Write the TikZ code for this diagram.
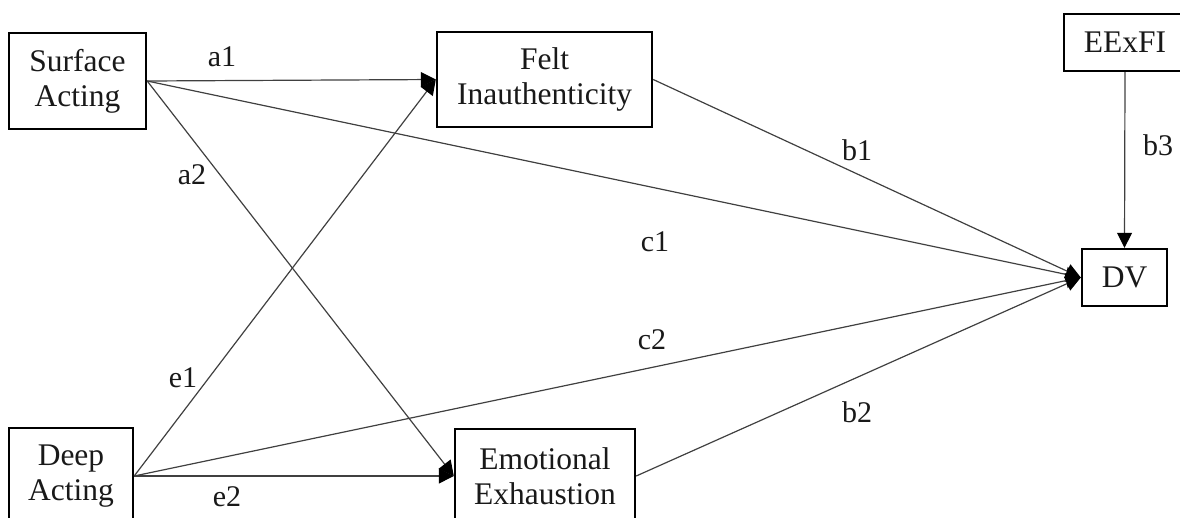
\documentclass[tikz,border=0pt]{standalone}
\usepackage{fontspec}
\setmainfont{Liberation Serif}
\usetikzlibrary{arrows.meta}
\begin{document}
\begin{tikzpicture}[x=1pt,y=-1pt,
  box/.style={draw=black, line width=2.4pt, inner sep=0pt, align=center,
    font=\fontsize{31.5}{35}\selectfont, text=black!90},
  conn/.style={draw=black!75, line width=1.2pt,
    -{Triangle[length=15pt,width=15pt,color=black]}},
  lab/.style={font=\fontsize{30}{33}\selectfont, text=black!90, inner sep=0pt}]
\useasboundingbox (0,0) rectangle (1180,517);
\node[box, minimum width=137pt, minimum height=96pt] (sa) at (77.5,81) {Surface\\Acting};
\node[box, minimum width=215pt, minimum height=95pt] (fi) at (544.5,79.5) {Felt\\Inauthenticity};
\node[box, minimum width=124pt, minimum height=96pt] (da) at (71,476) {Deep\\Acting};
\node[box, minimum width=180pt, minimum height=94pt] (ee) at (545,476) {Emotional\\Exhaustion};
\node[box, minimum width=122pt, minimum height=57pt] (ex) at (1125,42.5) {EExFI};
\node[box, minimum width=85pt, minimum height=57pt] (dv) at (1124.5,277.5) {DV};
\draw[conn] (sa.east) -- (fi.west);
\draw[conn] (sa.east) -- (ee.west);
\draw[conn] (sa.east) -- (dv.west);
\draw[conn] (da.east) -- (fi.west);
\draw[conn] (da.east) -- (dv.west);
\draw[conn] (da.east) -- (ee.west);
\draw[conn] (fi.east) -- (dv.west);
\draw[conn] (ee.east) -- (dv.west);
\draw[conn] (ex.south) -- (dv.north);
\node[lab] (la1) at (222,57) {a1};
\node[lab] (la2) at (192,175) {a2};
\node[lab] (lc1) at (655,242) {c1};
\node[lab] (le1) at (183,378) {e1};
\node[lab] (lc2) at (652,340) {c2};
\node[lab] (le2) at (227,497) {e2};
\node[lab] (lb1) at (857,150) {b1};
\node[lab] (lb2) at (857,412) {b2};
\node[lab] (lb3) at (1158,145) {b3};
\end{tikzpicture}
\end{document}
